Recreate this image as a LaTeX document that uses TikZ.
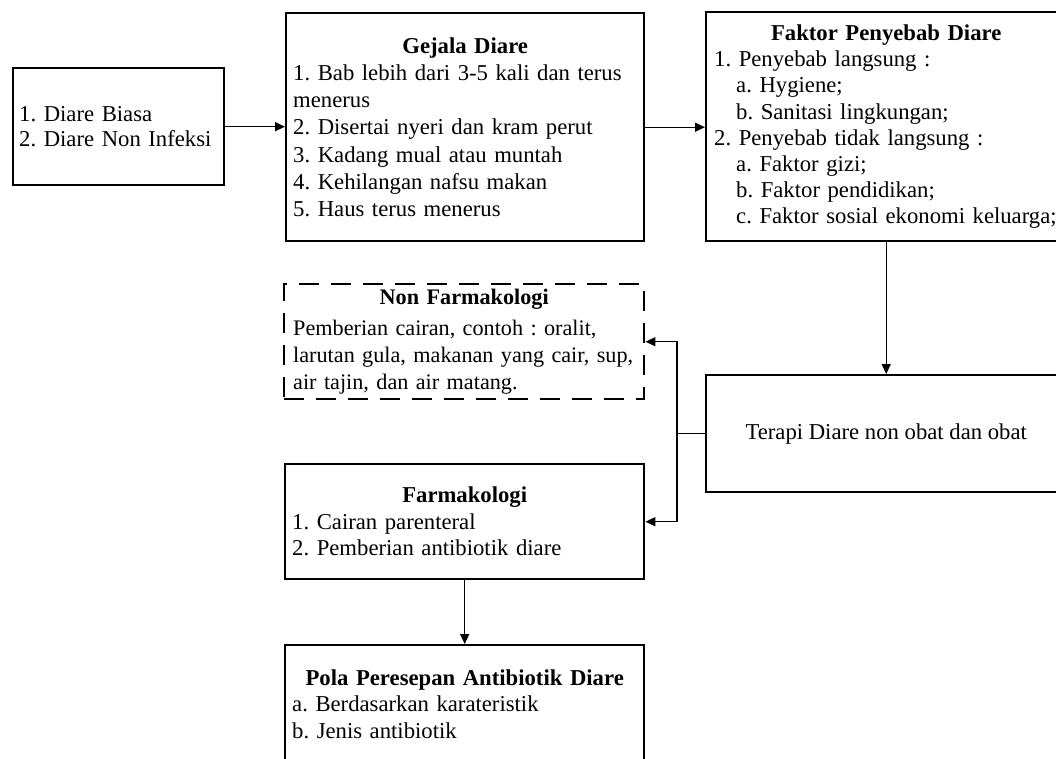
\documentclass[tikz,border=0pt]{standalone}
\usepackage{fontspec}
\setmainfont{Liberation Serif}
\usetikzlibrary{arrows.meta}
\tikzset{
  box/.style={draw, line width=2.4pt, anchor=north west, align=left, inner ysep=0pt,
    font=\fontsize{22.7}{26.5}\selectfont},
  dashbox/.style={box, dash pattern=on 20pt off 12pt},
  conn/.style={line width=1.4pt},
  arr/.style={conn, -{Triangle[length=10pt,width=9pt]}},
}
\newcommand{\ttl}[1]{\makebox[\linewidth]{\bfseries #1}}
\newcommand{\ind}{\hspace*{22pt}}
\begin{document}
\frenchspacing\hyphenpenalty=10000
\begin{tikzpicture}[x=1pt,y=-1pt]
\clip (0,0) rectangle (1056,758);
\fill[white] (0,0) rectangle (1056,758);

\node[box, minimum width=211pt, minimum height=117pt, text width=199pt, inner xsep=6pt,
  font=\fontsize{22.7}{25}\selectfont] (jenis) at (12,67)
  {1. Diare Biasa\\2. Diare Non Infeksi};

\node[box, minimum width=358pt, minimum height=228pt, text width=344pt, inner xsep=7pt,
  font=\fontsize{22.7}{27.3}\selectfont] (gejala) at (285,12)
  {\ttl{Gejala Diare}\\
   1. Bab lebih dari 3-5 kali dan terus\\
   menerus\\
   2. Disertai nyeri dan kram perut\\
   3. Kadang mual atau muntah\\
   4. Kehilangan nafsu makan\\
   5. Haus terus menerus};

\node[box, minimum width=360pt, minimum height=229pt, text width=344pt, inner xsep=8pt,
  font=\fontsize{22.7}{26.2}\selectfont] (faktor) at (705,11)
  {\ttl{Faktor Penyebab Diare}\\
   1. Penyebab langsung :\\
   \ind a. Hygiene;\\
   \ind b. Sanitasi lingkungan;\\
   2. Penyebab tidak langsung :\\
   \ind a. Faktor gizi;\\
   \ind b. Faktor pendidikan;\\
   \ind \mbox{c. Faktor sosial ekonomi keluarga;}};

\node[box, align=center, minimum width=360pt, minimum height=117pt] (terapi) at (705,374)
  {Terapi Diare non obat dan obat};

\node[dashbox, minimum width=360pt, minimum height=115pt, text width=342pt, inner xsep=9pt,
  font=\fontsize{22.2}{27}\selectfont] (nonfarma) at (283,283)
  {\ttl{Non Farmakologi}\\[4pt]
   \mbox{Pemberian cairan, contoh : oralit,}\\
   \mbox{larutan gula, makanan yang cair, sup,}\\
   \mbox{air tajin, dan air matang.}};

\node[box, minimum width=359pt, minimum height=115pt, text width=345pt, inner xsep=7pt] (farma) at (284,463)
  {\ttl{Farmakologi}\\
   1. Cairan parenteral\\
   2. Pemberian antibiotik diare};

\node[box, minimum width=359pt, minimum height=118pt, text width=345pt, inner xsep=7pt] (pola) at (284,644)
  {\ttl{Pola Peresepan Antibiotik Diare}\\
   a. Berdasarkan karateristik\\
   b. Jenis antibiotik};

\draw[arr] (jenis.east) -- (gejala.west |- jenis.east);
\draw[arr] (gejala.east) -- (faktor.west |- gejala.east);
\draw[arr] (faktor.south) -- (terapi.north);
\draw[conn] (terapi.west) -- ++(-28,0) coordinate (split);
\draw[arr] (split) |- (nonfarma.east);
\draw[arr] (split) |- (farma.east);
\draw[arr] (farma.south) -- (pola.north);
\end{tikzpicture}
\end{document}
